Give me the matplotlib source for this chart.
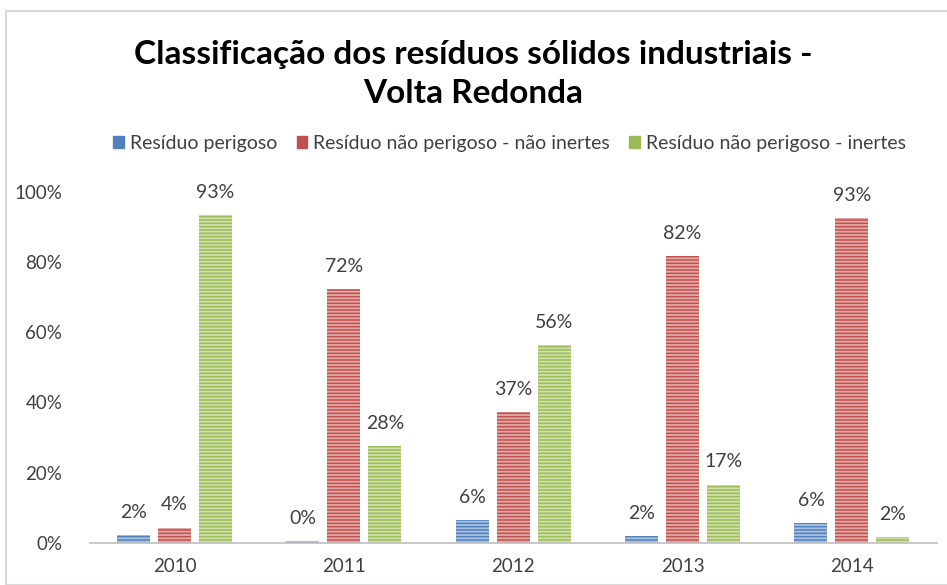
import matplotlib
matplotlib.use("Agg")
import matplotlib.pyplot as plt
import numpy as np
from matplotlib.patches import Rectangle

plt.rcParams['font.family'] = ['Lato', 'DejaVu Sans']
plt.rcParams['hatch.linewidth'] = 1.3

# data (share of total, %)
years = ['2010', '2011', '2012', '2013', '2014']
series = ['Resíduo perigoso',
          'Resíduo não perigoso - não inertes',
          'Resíduo não perigoso - inertes']
perigoso = [2.2, 0.4, 6.4, 2.0, 5.7]
nao_inertes = [4.3, 72.2, 37.3, 81.6, 92.6]
inertes = [93.4, 27.5, 56.3, 16.6, 1.7]

colors = ['#4F81BD', '#C0504D', '#9BBB59']
stripes = ['#A9C1E0', '#E3A9A7', '#CFE0A8']

fig = plt.figure(figsize=(9.47, 5.85), dpi=100)
ax = fig.add_axes([0.095, 0.072, 0.894, 0.600])

x = np.arange(len(years))
width = 0.195
step = 0.242
for i, vals in enumerate([perigoso, nao_inertes, inertes]):
    pos = x + (i - 1) * step
    ax.bar(pos, vals, width, color=colors[i], linewidth=0, label=series[i])
    ax.bar(pos, vals, width, color='none', edgecolor=stripes[i],
           hatch='-----', linewidth=0)
    for p, v in zip(pos, vals):
        ax.text(p, v + 6.5, f'{v:.0f}%', ha='center', va='center',
                fontsize=14, color='#404040')

ax.set_xlim(-0.5, len(years) - 0.5)
ax.set_ylim(0, 100)
ax.set_xticks(x)
ax.set_xticklabels(years)
ax.set_yticks(np.arange(0, 101, 20))
ax.set_yticklabels([f'{t}%' for t in range(0, 101, 20)])
ax.tick_params(axis='both', length=0, labelsize=13.5, labelcolor='#404040')
ax.tick_params(axis='y', pad=20)
ax.tick_params(axis='x', pad=11)
for s in ['top', 'right', 'left']:
    ax.spines[s].set_visible(False)
ax.spines['bottom'].set_color('#BFBFBF')
ax.spines['bottom'].set_linewidth(1.2)

handles = [Rectangle((0, 0), 1, 1, color=c) for c in colors]
fig.legend(handles, series, loc='center', bbox_to_anchor=(0.538, 0.755),
           ncol=3, frameon=False, fontsize=14, handlelength=0.55,
           handleheight=0.55, handletextpad=0.3, columnspacing=1.0,
           labelcolor='#404040')

fig.text(0.5, 0.874, 'Classificação dos resíduos sólidos industriais -\nVolta Redonda',
         ha='center', va='center', fontsize=24, fontweight='bold',
         linespacing=1.4, color='black')

fig.patches.append(Rectangle((6 / 947, 0), 1, 1 - 11 / 585, transform=fig.transFigure,
                             fill=False, edgecolor='#D9D9D9', linewidth=1.5))

fig.savefig('out.png', dpi=100)
